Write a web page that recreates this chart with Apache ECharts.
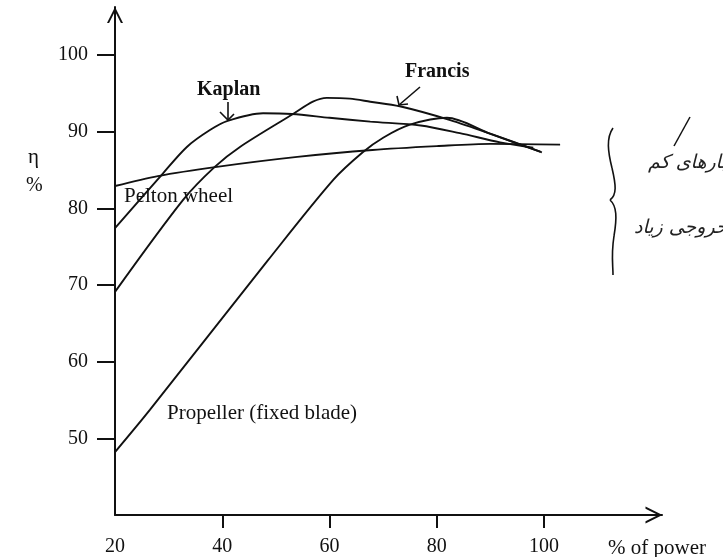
<!DOCTYPE html>
<html>
<head>
<meta charset="utf-8">
<script src="https://cdn.jsdelivr.net/npm/echarts@6/dist/echarts.min.js"></script>
<style>
  html, body { margin: 0; padding: 0; background: #fff; }
  #chart { width: 723px; height: 557px; }
</style>
</head>
<body>
<div id="chart"></div>
<script>
// Turbine efficiency (%) against load (% of rated power), pairs of [power, efficiency]
const pelton = [[20, 82.9], [28, 84.2], [39, 85.4], [54, 86.7], [68, 87.6], [80, 88.1], [90, 88.4], [103, 88.3]];
const kaplan = [[20, 77.4], [29, 84.6], [33.4, 88.0], [37.7, 90.2], [41, 91.4], [47.6, 92.4], [53, 92.3], [60, 91.8], [67.6, 91.3], [77, 90.8], [84.3, 89.8], [91.8, 88.6], [98, 87.9]];
const francis = [[20, 69.1], [32.7, 81.1], [38.6, 85.4], [43.3, 88.0], [53.2, 92.3], [56.9, 93.9], [59.5, 94.4], [63.8, 94.3], [67.6, 93.9], [73.1, 93.3], [82.5, 91.5], [90.5, 89.6], [99.6, 87.3]];
const propeller = [[20, 48.2], [26.5, 53.7], [48.5, 73.2], [60.7, 83.7], [66.2, 87.3], [70, 89.2], [75, 90.9], [81.9, 91.8], [90, 89.7], [99.3, 87.4]];

// Axis ticks and labels
const xTicks = [40, 60, 80, 100];
const xLabels = [20, 40, 60, 80, 100];
const yTicks = [50, 60, 70, 80, 90, 100];
const yLabels = [50, 60, 70, 80, 90, 100];

const INK = '#111';
const SERIF = '"Liberation Serif", "Times New Roman", serif';
const chevron = 'path://M0,10L5,0L10,10L8.7,10L5,2.6L1.3,10Z';

function curve(name, data) {
  return {
    name: name,
    type: 'line',
    data: data,
    smooth: 0.3,
    showSymbol: false,
    silent: true,
    lineStyle: { color: INK, width: 1.9 }
  };
}

function label(text, x, y, size, weight) {
  return {
    type: 'text', x: x, y: y, silent: true,
    style: { text: text, fill: INK, font: (weight || 'normal') + ' ' + size + 'px ' + SERIF, textVerticalAlign: 'middle' }
  };
}

function stroke(points, w) {
  return { type: 'polyline', silent: true, shape: { points: points }, style: { stroke: INK, lineWidth: w || 1.6, fill: null } };
}

function bez(p1, c1, c2, p2) {
  return {
    type: 'bezierCurve', silent: true,
    shape: { x1: p1[0], y1: p1[1], cpx1: c1[0], cpy1: c1[1], cpx2: c2[0], cpy2: c2[1], x2: p2[0], y2: p2[1] },
    style: { stroke: INK, lineWidth: 1.6, fill: null }
  };
}

const chart = echarts.init(document.getElementById('chart'), null, { renderer: 'canvas' });

chart.setOption({
  animation: false,
  backgroundColor: '#ffffff',
  grid: { left: 115, top: 7, width: 547, height: 509 },
  xAxis: {
    type: 'value', min: 20, max: 122,
    axisLine: { show: true, onZero: false, lineStyle: { color: INK, width: 2 },
      symbol: ['none', chevron], symbolSize: [22, 17], symbolOffset: [0, -8] },
    axisTick: { show: true, length: 13, customValues: xTicks, lineStyle: { color: INK, width: 2 } },
    axisLabel: { customValues: xLabels, color: INK, fontFamily: SERIF, fontSize: 20, margin: 22 },
    splitLine: { show: false }
  },
  yAxis: {
    type: 'value', min: 40, max: 106.25,
    axisLine: { show: true, onZero: false, lineStyle: { color: INK, width: 2 },
      symbol: ['none', chevron], symbolSize: [23, 16], symbolOffset: [0, -8] },
    axisTick: { show: true, length: 18, customValues: yTicks, lineStyle: { color: INK, width: 2 } },
    axisLabel: { customValues: yLabels, color: INK, fontFamily: SERIF, fontSize: 20, margin: 27 },
    splitLine: { show: false }
  },
  series: [
    curve('Pelton wheel', pelton),
    curve('Kaplan', kaplan),
    curve('Francis', francis),
    curve('Propeller (fixed blade)', propeller)
  ],
  graphic: [
    label('η', 28, 157, 21),
    label('%', 26, 186, 20),
    label('% of power', 608, 548, 21),
    label('Kaplan', 197, 90, 20, 'bold'),
    label('Francis', 405, 72, 20, 'bold'),
    label('Pelton wheel', 124, 196, 21),
    label('Propeller (fixed blade)', 167, 413, 21),
    // pointer arrows to the Kaplan and Francis curves
    stroke([[228, 102], [228, 120]]),
    stroke([[220, 112], [228, 120], [234, 114]]),
    stroke([[420, 87], [399, 105]]),
    stroke([[397, 96], [399, 105], [408, 104]]),
    // hand-written side note with brace
    bez([613, 128], [606, 138], [608, 152], [612, 168]),
    bez([612, 168], [616, 185], [617, 195], [610, 200]),
    bez([610, 200], [617, 206], [617, 218], [614, 236]),
    bez([614, 236], [611, 255], [613, 265], [613, 275]),
    stroke([[690, 117], [674, 146]], 1.5),
    {
      type: 'text', x: 648, y: 163, silent: true,
      style: { text: 'بارهای کم', fill: '#222', font: 'italic 19px "DejaVu Sans", sans-serif', textVerticalAlign: 'middle' }
    },
    {
      type: 'text', x: 634, y: 228, silent: true,
      style: { text: 'خروجی زیاد', fill: '#222', font: 'italic 19px "DejaVu Sans", sans-serif', textVerticalAlign: 'middle' }
    }
  ]
});
</script>
</body>
</html>
